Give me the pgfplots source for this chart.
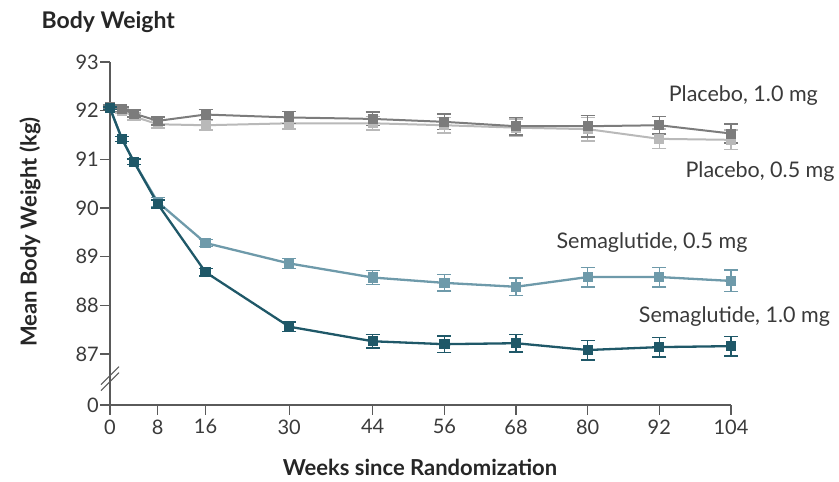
\documentclass[border=0pt]{standalone}
\usepackage{fontspec}
\setmainfont{Lato}
\usepackage{pgfplots}
\pgfplotsset{compat=1.18}
\usepackage{pgfplotstable}
\definecolor{semaA}{HTML}{1F5868}
\definecolor{semaB}{HTML}{6E9AAA}
\definecolor{plaA}{HTML}{7C7C7C}
\definecolor{plaB}{HTML}{B9B9B9}
\definecolor{axisgray}{HTML}{5A5A5A}
\definecolor{txt}{HTML}{3A3A3A}

\pgfplotstableread{
wk  y      e
0   92.05  0.03
2   91.42  0.05
4   90.95  0.06
8   90.08  0.08
16  88.68  0.08
30  87.56  0.10
44  87.26  0.14
56  87.20  0.17
68  87.22  0.18
80  87.08  0.20
92  87.14  0.20
104 87.16  0.20
}\semaone
\pgfplotstableread{
wk  y      e
0   92.05  0.03
2   91.42  0.05
4   90.95  0.06
8   90.12  0.10
16  89.28  0.07
30  88.86  0.10
44  88.57  0.14
56  88.46  0.17
68  88.38  0.18
80  88.58  0.20
92  88.58  0.20
104 88.50  0.22
}\semahalf
\pgfplotstableread{
wk  y      e
0   92.08  0.04
2   92.03  0.05
4   91.94  0.07
8   91.79  0.08
16  91.92  0.10
30  91.86  0.12
44  91.83  0.14
56  91.77  0.16
68  91.68  0.18
80  91.68  0.22
92  91.70  0.18
104 91.53  0.20
}\plaone
\pgfplotstableread{
wk  y      e
0   92.08  0.04
2   92.00  0.05
4   91.88  0.07
8   91.72  0.08
16  91.70  0.10
30  91.74  0.12
44  91.74  0.14
56  91.70  0.16
68  91.65  0.18
80  91.62  0.24
92  91.42  0.20
104 91.40  0.20
}\plahalf

\begin{document}
\begin{tikzpicture}
\begin{axis}[
  scale only axis,
  width=621pt, height=343pt,
  xmin=0, xmax=104, ymin=85.95, ymax=93,
  clip=false,
  axis x line=bottom, axis y line=left,
  axis line style={-, draw=axisgray, line width=1.4pt},
  tick style={draw=axisgray, line width=1.2pt},
  major tick length=10pt,
  tick align=outside,
  xtick={0,8,16,30,44,56,68,80,92,104},
  xticklabels={0,8,16,30,44,56,68,80,92,104},
  ytick={85.95,87,88,89,90,91,92,93},
  yticklabels={0,87,88,89,90,91,92,93},
  ticklabel style={font=\fontsize{20}{22}\selectfont, text=txt},
  yticklabel style={inner sep=1pt},
  xticklabel style={yshift=-1pt},
  error bars/y dir=both, error bars/y explicit,
]
\addplot[color=plaB, line width=2pt, mark=square*, mark size=4pt, mark options={fill=plaB, draw=plaB},
  error bars/error bar style={plaB, line width=1.5pt},
  error bars/error mark options={rotate=90, plaB, mark size=7pt, line width=1.5pt}]
  table[x=wk, y=y, y error=e] {\plahalf};
\addplot[color=plaA, line width=2pt, mark=square*, mark size=4pt, mark options={fill=plaA, draw=plaA},
  error bars/error bar style={plaA, line width=1.5pt},
  error bars/error mark options={rotate=90, plaA, mark size=7pt, line width=1.5pt}]
  table[x=wk, y=y, y error=e] {\plaone};
\addplot[color=semaB, line width=2.3pt, mark=square*, mark size=4pt, mark options={fill=semaB, draw=semaB},
  error bars/error bar style={semaB, line width=1.5pt},
  error bars/error mark options={rotate=90, semaB, mark size=7pt, line width=1.5pt}]
  table[x=wk, y=y, y error=e] {\semahalf};
\addplot[color=semaA, line width=2.3pt, mark=square*, mark size=4pt, mark options={fill=semaA, draw=semaA},
  error bars/error bar style={semaA, line width=1.5pt},
  error bars/error mark options={rotate=90, semaA, mark size=7pt, line width=1.5pt}]
  table[x=wk, y=y, y error=e] {\semaone};

% axis break marks
\draw[axisgray, line width=1.1pt] ([xshift=-9pt,yshift=-11pt]axis cs:0,86.47) -- ([xshift=9pt,yshift=7pt]axis cs:0,86.47);
\draw[axisgray, line width=1.1pt] ([xshift=-9pt,yshift=-5pt]axis cs:0,86.47) -- ([xshift=9pt,yshift=13pt]axis cs:0,86.47);

\node[anchor=west, text=txt, font=\fontsize{21.5}{23}\selectfont] at (axis cs:93.0,92.31) {Placebo, 1.0 mg};
\node[anchor=west, text=txt, font=\fontsize{21.5}{23}\selectfont] at (axis cs:95.8,90.74) {Placebo, 0.5 mg};
\node[anchor=west, text=txt, font=\fontsize{21.5}{23}\selectfont] at (axis cs:74.2,89.28) {Semaglutide, 0.5 mg};
\node[anchor=west, text=txt, font=\fontsize{21.5}{23}\selectfont] at (axis cs:88.0,87.76) {Semaglutide, 1.0 mg};
\end{axis}
\node[anchor=west, text=black!85, font=\bfseries\fontsize{23}{25}\selectfont] at (-72pt,383pt) {Body Weight};
\node[rotate=90, text=black!85, font=\bfseries\fontsize{22}{24}\selectfont] at (-80pt,173pt) {Mean Body Weight (kg)};
\node[text=black!85, font=\bfseries\fontsize{22}{24}\selectfont] at (310pt,-62pt) {Weeks since Randomization};
\pgfresetboundingbox
\path[use as bounding box] (-110pt,-77pt) rectangle (729pt,405pt);
\end{tikzpicture}
\end{document}
